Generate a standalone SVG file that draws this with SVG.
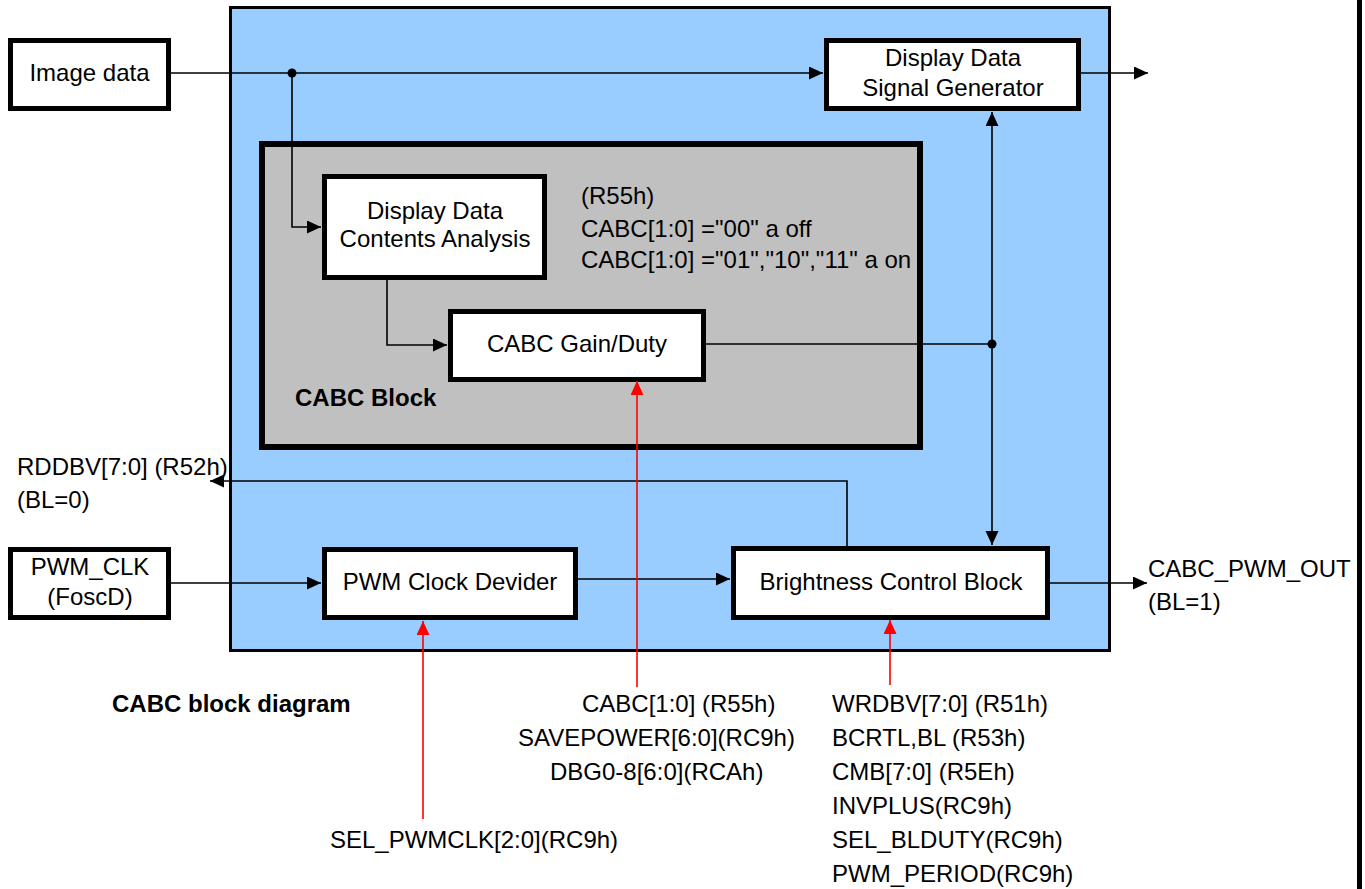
<svg xmlns="http://www.w3.org/2000/svg" width="1365" height="889" viewBox="0 0 1365 889">
  <defs>
    <marker id="ah" markerUnits="userSpaceOnUse" markerWidth="15" markerHeight="14" refX="14" refY="6.5" orient="auto">
      <path d="M0,0 L14,6.5 L0,13 z" fill="#000"/>
    </marker>
    <marker id="ahr" markerUnits="userSpaceOnUse" markerWidth="15" markerHeight="14" refX="14" refY="6.5" orient="auto">
      <path d="M0,0 L14,6.5 L0,13 z" fill="#f00"/>
    </marker>
  </defs>
  <style>
    text { font-family: "Liberation Sans", Arial, sans-serif; font-size: 24px; fill: #000; }
    .c { text-anchor: middle; }
    .b { font-weight: bold; }
    .box { fill: #fff; stroke: #000; stroke-width: 5; }
    .ln { fill: none; stroke: #000; stroke-width: 1.6; }
    .red { fill: none; stroke: #f00; stroke-width: 1.6; }
  </style>
  <rect width="1365" height="889" fill="#fff"/>
  <line x1="1359.5" y1="0" x2="1359.5" y2="889" stroke="#000" stroke-width="5"/>

  <g id="outer-block">
    <rect x="230.5" y="7.5" width="879" height="643" fill="#99CCFF" stroke="#000" stroke-width="3"/>
  </g>
  <g id="cabc-block">
    <rect x="262" y="144" width="658" height="303" fill="#C0C0C0" stroke="#000" stroke-width="6"/>
    <text class="b" x="295" y="406">CABC Block</text>
    <text x="581" y="204">(R55h)</text>
    <text x="581" y="237">CABC[1:0] ="00" a off</text>
    <text x="581" y="268">CABC[1:0] ="01","10","11" a on</text>
  </g>

  <g id="image-data">
    <rect class="box" x="10.5" y="40.5" width="158" height="68"/>
    <text class="c" x="89.5" y="81">Image data</text>
  </g>
  <g id="ddsg">
    <rect class="box" x="826.5" y="40.5" width="252" height="68"/>
    <text class="c" x="953" y="66">Display Data</text>
    <text class="c" x="953" y="96">Signal Generator</text>
  </g>
  <g id="ddca">
    <rect class="box" x="324.5" y="176.5" width="220" height="101"/>
    <text class="c" x="435" y="219">Display Data</text>
    <text class="c" x="435" y="247">Contents Analysis</text>
  </g>
  <g id="gain-duty">
    <rect class="box" x="450.5" y="311.5" width="253" height="68"/>
    <text class="c" x="577" y="352">CABC Gain/Duty</text>
  </g>
  <g id="pwm-clk">
    <rect class="box" x="10.5" y="549.5" width="158" height="68"/>
    <text class="c" x="90" y="575">PWM_CLK</text>
    <text class="c" x="90" y="605">(FoscD)</text>
  </g>
  <g id="pwm-clock-devider">
    <rect class="box" x="324.5" y="549.5" width="251" height="68"/>
    <text class="c" x="450" y="590">PWM Clock Devider</text>
  </g>
  <g id="brightness">
    <rect class="box" x="733.5" y="548.5" width="314" height="69"/>
    <text class="c" x="891" y="590">Brightness Control Block</text>
  </g>

  <g id="connectors">
    <path class="ln" d="M171 73 H823" marker-end="url(#ah)"/>
    <path class="ln" d="M292 73 V227 H321" marker-end="url(#ah)"/>
    <circle cx="292" cy="73" r="4.5" fill="#000"/>
    <path class="ln" d="M1081 73 H1148" marker-end="url(#ah)"/>
    <path class="ln" d="M387 280 V345 H447" marker-end="url(#ah)"/>
    <path class="ln" d="M706 344 H992"/>
    <circle cx="992" cy="344" r="4.5" fill="#000"/>
    <path class="ln" d="M992 344 V112" marker-end="url(#ah)"/>
    <path class="ln" d="M992 344 V545" marker-end="url(#ah)"/>
    <path class="ln" d="M847 546 V481 H210" marker-end="url(#ah)"/>
    <path class="ln" d="M171 583 H321" marker-end="url(#ah)"/>
    <path class="ln" d="M578 579 H730" marker-end="url(#ah)"/>
    <path class="ln" d="M1050 583 H1147" marker-end="url(#ah)"/>
    <path class="red" d="M637 687 V381" marker-end="url(#ahr)"/>
    <path class="red" d="M423 819 V621" marker-end="url(#ahr)"/>
    <path class="red" d="M890 685 V620" marker-end="url(#ahr)"/>
  </g>

  <g id="labels">
    <text x="17" y="475">RDDBV[7:0] (R52h)</text>
    <text x="17" y="508">(BL=0)</text>
    <text x="1148" y="577">CABC_PWM_OUT</text>
    <text x="1148" y="610">(BL=1)</text>
    <text class="b" x="112" y="712">CABC block diagram</text>
    <text x="582" y="712">CABC[1:0] (R55h)</text>
    <text x="518" y="746">SAVEPOWER[6:0](RC9h)</text>
    <text x="550" y="780">DBG0-8[6:0](RCAh)</text>
    <text x="832" y="712">WRDBV[7:0] (R51h)</text>
    <text x="832" y="746">BCRTL,BL (R53h)</text>
    <text x="832" y="780">CMB[7:0] (R5Eh)</text>
    <text x="832" y="814">INVPLUS(RC9h)</text>
    <text x="832" y="848">SEL_BLDUTY(RC9h)</text>
    <text x="832" y="882">PWM_PERIOD(RC9h)</text>
    <text x="330" y="848">SEL_PWMCLK[2:0](RC9h)</text>
  </g>
</svg>
